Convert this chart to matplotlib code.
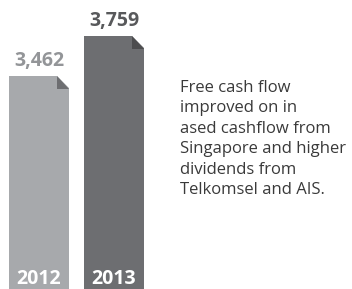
import matplotlib
matplotlib.use("Agg")
import matplotlib.pyplot as plt
from matplotlib.patches import Polygon

years = ["2012", "2013"]
values = [3462, 3759]
value_labels = ["3,462", "3,759"]
bar_colors = ["#a7a9ac", "#6d6e71"]
fold_colors = ["#6d6e71", "#4d4d4f"]
label_colors = ["#939598", "#58595b"]
note_lines = ["Free cash flow", "improved on in", "ased cashflow from",
              "Singapore and higher", "dividends from", "Telkomsel and AIS."]

plt.rcParams['font.family'] = ['Open Sans', 'DejaVu Sans']

W, H = 352, 289
fig = plt.figure(figsize=(W / 100, H / 100), dpi=100)
ax = fig.add_axes([0, 0, 1, 1])
ax.set_axis_off()
xmin, xmax = -0.52, 4.173
ymin, ymax = 1881, 4026
ax.set_xlim(xmin, xmax)
ax.set_ylim(ymin, ymax)

width = 0.8
x = list(range(len(values)))
ax.bar(x, values, width=width, color=bar_colors, bottom=0)

# fold size in pixels -> data
fw = 12 * (xmax - xmin) / W
fh = 13 * (ymax - ymin) / H
for xi, v, fc in zip(x, values, fold_colors):
    xr = xi + width / 2
    ax.add_patch(Polygon([(xr - fw, v), (xr + 0.01, v), (xr + 0.01, v - fh)],
                         closed=True, facecolor="white", edgecolor="none", zorder=3))
    ax.add_patch(Polygon([(xr - fw, v), (xr - fw, v - fh), (xr, v - fh)],
                         closed=True, facecolor=fc, edgecolor="none", zorder=4))

for xi, v, lab, c in zip(x, values, value_labels, label_colors):
    ax.annotate(lab, (xi, v), xytext=(0, 3.5), textcoords="offset points",
                ha="center", va="bottom", fontsize=14, fontweight="bold", color=c)

for xi, yr in zip(x, years):
    ax.annotate(yr, (xi, ymin), xytext=(0, 0), textcoords="offset points",
                ha="center", va="bottom", fontsize=14, fontweight="bold", color="white")

fig.text(180 / W, 1 - 80 / H, "\n".join(note_lines), ha="left", va="top",
         fontsize=12, color="#3a3a3a", linespacing=1.37)

fig.savefig("out.png", dpi=100)
